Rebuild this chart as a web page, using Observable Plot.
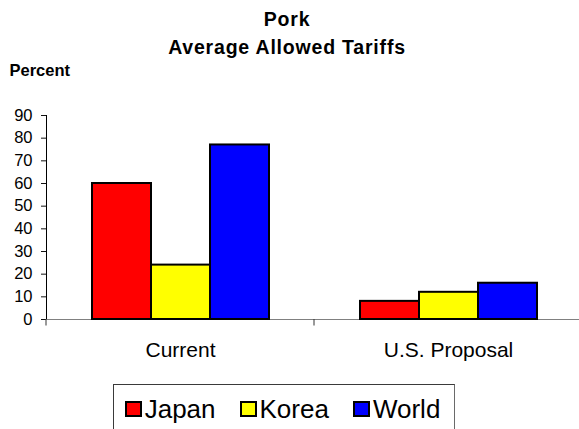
<!DOCTYPE html>
<html>
<head>
<meta charset="utf-8">
<script src="https://cdn.jsdelivr.net/npm/d3@7"></script>
<script src="https://cdn.jsdelivr.net/npm/@observablehq/plot@0.6"></script>
<style>
  html, body { margin: 0; padding: 0; background: #fff; overflow: hidden; }
  #chart { position: relative; width: 579px; height: 429px; font-family: "Liberation Sans", Arial, sans-serif; color: #000; }
  .title { position: absolute; left: 0; width: 574px; text-align: center; font-weight: bold; font-size: 19.5px; line-height: 19.5px; letter-spacing: 0.8px; white-space: nowrap; }
  #unit { position: absolute; left: 9.5px; top: 62px; font-weight: bold; font-size: 16.5px; line-height: 16.5px; white-space: nowrap; }
  #plot { position: absolute; left: 0; top: 0; }
  #plot [aria-label^="y-axis"] text { font-size: 16.5px; }
  #plot [aria-label^="y-axis"] :is(line, path) { stroke: #111; }
  #legend { position: absolute; left: 113px; top: 384px; width: 342px; height: 60px; box-sizing: border-box;
            border: 1px solid #3a3a3a; border-right: 1.5px solid #6a6a6a; padding: 10.5px 0 0 10.7px; display: flex; gap: 24px; }
  .item { display: flex; align-items: center; height: 26px; }
  .swatch { width: 17px; height: 16px; box-sizing: border-box; border: 2px solid #000; margin-right: 3px; }
  .label { font-size: 26px; line-height: 26px; white-space: nowrap; }
</style>
</head>
<body>
<div id="chart">
  <div class="title" style="top:10px">Pork</div>
  <div class="title" style="top:38px">Average Allowed Tariffs</div>
  <div id="unit">Percent</div>
  <div id="plot"></div>
  <div id="legend"></div>
</div>
<script>
// Average allowed pork tariffs (percent), current vs. U.S. proposal
const categories = ["Current", "U.S. Proposal"];
const series = ["Japan", "Korea", "World"];
const colors = ["#ff0000", "#ffff00", "#0000ff"];
const currentValues = [60, 24, 77];
const proposalValues = [8, 12, 16];
const yTicks = [0, 10, 20, 30, 40, 50, 60, 70, 80, 90];

// Long-format rows for the grouped bars
const rows = [];
series.forEach((s, i) => {
  rows.push({category: categories[0], series: s, value: currentValues[i]});
  rows.push({category: categories[1], series: s, value: proposalValues[i]});
});

const svgNS = "http://www.w3.org/2000/svg";

// Short downward tick at the left edge of each category band, below the baseline
function bandEdgeTick(index, scales, values, dimensions) {
  const y0 = scales.y(0);
  const line = document.createElementNS(svgNS, "line");
  line.setAttribute("x1", dimensions.marginLeft);
  line.setAttribute("x2", dimensions.marginLeft);
  line.setAttribute("y1", y0);
  line.setAttribute("y2", y0 + 6.5);
  line.setAttribute("stroke", "#333");
  line.setAttribute("stroke-width", 1);
  return line;
}

const chart = Plot.plot({
  width: 579,
  height: 429,
  marginTop: 115,
  marginBottom: 110,
  marginLeft: 45,
  marginRight: 0,
  style: {fontFamily: '"Liberation Sans", Arial, sans-serif', fontSize: "21px", color: "#000", background: "transparent", overflow: "visible"},
  facet: {data: rows, x: "category"},
  fx: {domain: categories, range: [45, 582.4], padding: 0, label: null, tickSize: 0, tickPadding: 23, axis: "bottom"},
  x: {domain: series, paddingInner: 0, paddingOuter: 0.75, axis: null},
  y: {domain: [0, 90], ticks: yTicks, tickSize: 5, tickPadding: 9, label: null, line: true},
  color: {domain: series, range: colors},
  marks: [
    Plot.ruleY([0], {stroke: "#808080"}),
    Plot.barY(rows, {x: "series", y: "value", fill: "series", stroke: "#000", strokeWidth: 2}),
    bandEdgeTick
  ]
});
document.getElementById("plot").appendChild(chart);

// Legend row
const legend = document.getElementById("legend");
series.forEach((s, i) => {
  const item = document.createElement("div");
  item.className = "item";
  const sw = document.createElement("div");
  sw.className = "swatch";
  sw.style.background = colors[i];
  const lab = document.createElement("span");
  lab.className = "label";
  lab.textContent = s;
  item.appendChild(sw);
  item.appendChild(lab);
  legend.appendChild(item);
});
</script>
</body>
</html>
